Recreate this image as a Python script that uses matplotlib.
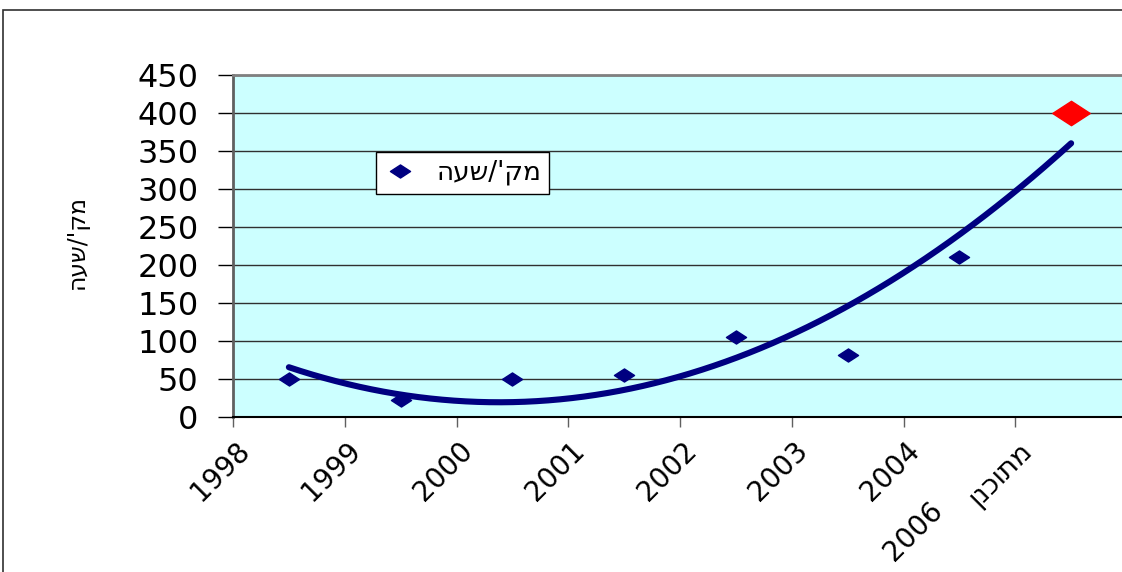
import numpy as np
import matplotlib
matplotlib.use("Agg")
import matplotlib.pyplot as plt
from matplotlib.path import Path
from matplotlib.patches import Rectangle
from matplotlib.transforms import ScaledTranslation

# hebrew strings are written in visual (left-to-right) order, matplotlib has no bidi
years = ['1998', '1999', '2000', '2001', '2002', '2003', '2004', 'ןנכותמ']
planned_year = '2006'
rate = [50, 22, 50, 55, 105, 82, 210, 400]   # m3/hour, last one is the planned value
series_name = "העש/'קמ"

plt.rcParams['font.family'] = ['DejaVu Sans']

W, H = 1122, 572
fig = plt.figure(figsize=(W / 100, H / 100), dpi=100)
# outer chart frame (runs off the right/bottom edge like the screenshot)
fig.patches.append(Rectangle((3 / W, -0.1), 1.2, 1 - 10 / H + 0.1, transform=fig.transFigure,
                             fill=False, ec='#303030', lw=1.2))

ax = fig.add_axes([233 / W, 155 / H, 894 / W, 342 / H])
ax.set_facecolor('#ccffff')

x = np.arange(len(years)) + 0.5
y = np.array(rate, dtype=float)

diamond = Path([(-1, 0), (0, 0.65), (1, 0), (0, -0.65), (-1, 0)],
               [Path.MOVETO, Path.LINETO, Path.LINETO, Path.LINETO, Path.CLOSEPOLY])

# 2nd order trend line through all points
coef = np.polyfit(x, y, 2)
xs = np.linspace(x[0], x[-1], 200)
ax.plot(xs, np.polyval(coef, xs), color='#000080', lw=4.4, solid_capstyle='round', zorder=3)

ax.plot(x[:-1], y[:-1], ls='none', marker=diamond, ms=14.5, color='#000080',
        label=series_name, zorder=4)
ax.plot(x[-1:], y[-1:], ls='none', marker=diamond, ms=27, color='#ff0000', zorder=4)

ax.set_xlim(0, len(years))
ax.set_ylim(0, 450)
ax.set_yticks(range(0, 451, 50))
ax.yaxis.grid(True, color='#303030', lw=1)
ax.set_axisbelow(True)

ax.tick_params(axis='y', length=10.8, width=1, pad=14, labelsize=23)
ax.tick_params(axis='x', length=7.2, width=1, pad=16, color='#606060')

xfont = 20
ax.set_xticks(range(len(years)))
ax.set_xticklabels(years, rotation=45, ha='right', va='center', rotation_mode='anchor',
                   fontsize=xfont)
shift = ScaledTranslation(0.12, 0.03, fig.dpi_scale_trans)
for lab in ax.get_xticklabels():
    lab.set_transform(lab.get_transform() + shift)

# the "2006" part of the last label sits before and slightly above the word
last = ax.get_xticklabels()[-1]
ax.text(len(years) - 1, 0, planned_year, rotation=45, ha='right', va='center',
        rotation_mode='anchor', fontsize=xfont,
        transform=last.get_transform() + ScaledTranslation(-0.89, -0.6, fig.dpi_scale_trans))

for side in ['top', 'right']:
    ax.spines[side].set_color('#808080')
    ax.spines[side].set_linewidth(2)
ax.spines['left'].set_color('#606060')
ax.spines['left'].set_linewidth(2)
ax.spines['bottom'].set_color('black')
ax.spines['bottom'].set_linewidth(1.5)

fig.text(77 / W, 1 - 242 / H, series_name, rotation=90, ha='center', va='center', fontsize=17)

ax.legend(loc='upper left', bbox_to_anchor=(376 / W, 1 - 152 / H), bbox_transform=fig.transFigure,
          frameon=True, fancybox=False, edgecolor='black', framealpha=1, fontsize=19,
          handlelength=1.2, handletextpad=0.8, borderpad=0.3, borderaxespad=0)

fig.savefig('out.png', dpi=100)
